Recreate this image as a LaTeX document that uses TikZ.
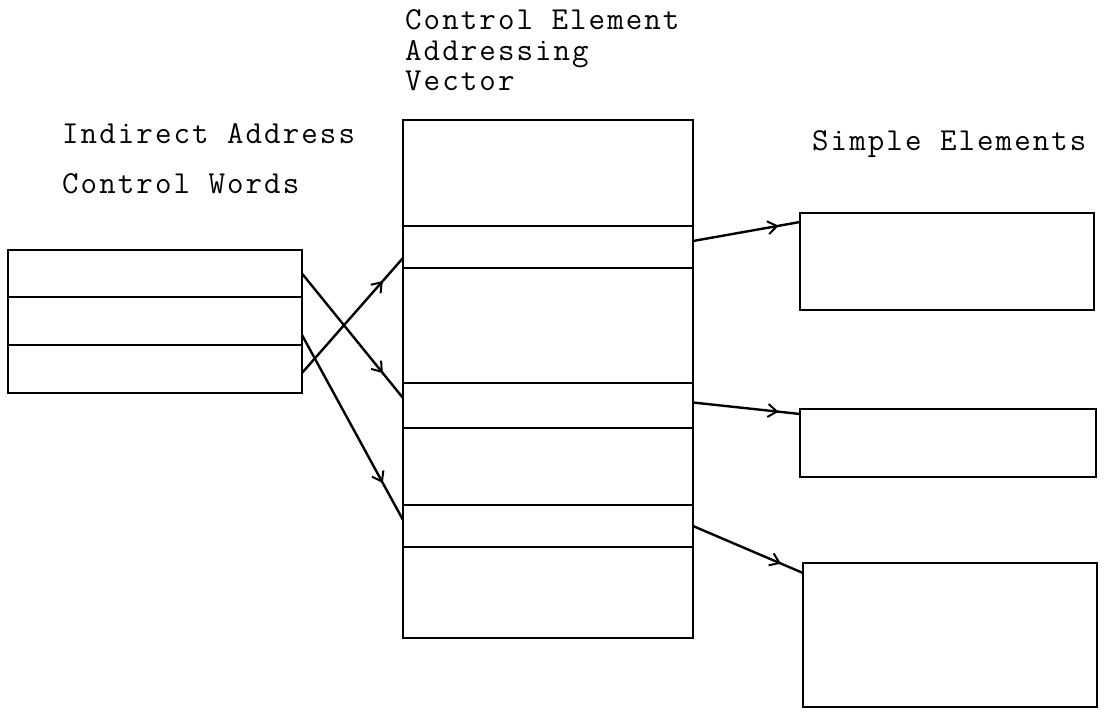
\documentclass[tikz,border=0pt]{standalone}
\usepackage{fontspec}
\newfontfamily\typewr{Latin Modern Mono}[LetterSpace=6.5]
\usetikzlibrary{arrows.meta,decorations.markings}

\tikzset{
  cell/.style={draw,line width=2.6pt,minimum width=#1,inner sep=0pt,outer sep=0pt,anchor=north west},
  caption/.style={font=\typewr\fontsize{32}{#1}\selectfont,align=left,inner sep=0pt,anchor=base west},
  link/.style={line width=2.4pt,postaction={decorate},
    decoration={markings,mark=at position 0.8 with {\arrow{Straight Barb[length=9pt,width=13pt,line width=2pt]}}}}
}

\begin{document}
\begin{tikzpicture}[x=1pt,y=-1pt]
\useasboundingbox (0,0) rectangle (1111,717);
% captions (anchored on their last line)
\node[caption=31] (cev) at (405,91) {Control Element\\Addressing\\Vector};
\node[caption=50] (iacw) at (62,193) {Indirect Address\\Control Words};
\node[caption=31] (simple) at (812,150) {Simple Elements};
% indirect address control words
\node[cell=294pt,minimum height=47pt] (l1) at (8,250) {};
\node[cell=294pt,minimum height=48pt] (l2) at (8,297) {};
\node[cell=294pt,minimum height=48pt] (l3) at (8,345) {};
% addressing vector
\foreach \name/\top/\ht in {m1/120/106,m2/226/42,m3/268/115,m4/383/45,m5/428/77,m6/505/42,m7/547/91}
  \node[cell=290pt,minimum height=\ht pt] (\name) at (403,\top) {};
% simple elements
\node[cell=294pt,minimum height=97pt] (s1) at (800,213) {};
\node[cell=296pt,minimum height=68pt] (s2) at (800,409) {};
\node[cell=294pt,minimum height=144pt] (s3) at (803,563) {};
% pointers
\draw[link] (l1.east) -- ([yshift=7.5pt]m4.west);
\draw[link] ([yshift=-14pt]l2.east) -- ([yshift=6pt]m6.west);
\draw[link] ([yshift=-4pt]l3.east) -- ([yshift=-11pt]m2.west);
\draw[link] ([yshift=6pt]m2.east) -- ([yshift=-9pt]s1.north west);
\draw[link] ([yshift=3pt]m4.east) -- ([yshift=-5pt]s2.north west);
\draw[link] (m6.east) -- ([yshift=-10pt]s3.north west);
\end{tikzpicture}
\end{document}
